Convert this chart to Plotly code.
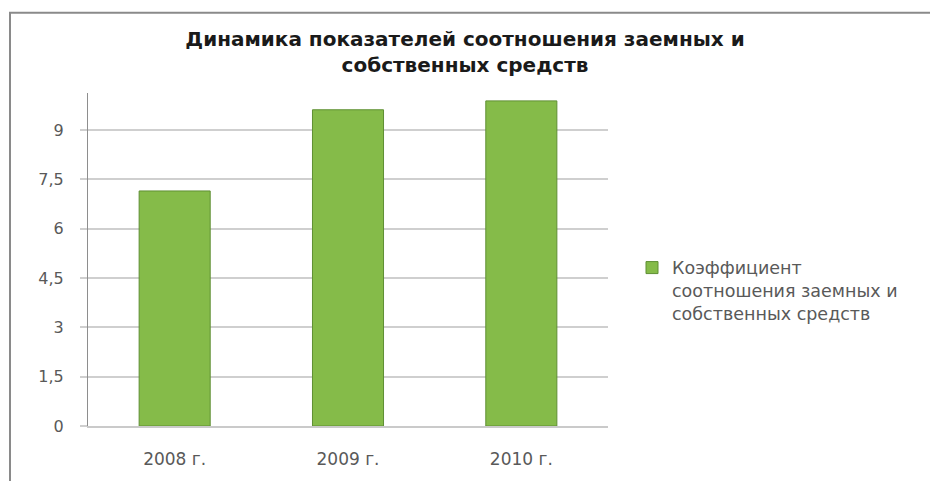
import plotly.graph_objects as go

# Data
years = ["2008 г.", "2009 г.", "2010 г."]
ratio = [7.15, 9.62, 9.89]
series_name = "Коэффициент<br>соотношения заемных и<br>собственных средств"
tick_values = [0, 1.5, 3, 4.5, 6, 7.5, 9]
tick_labels = ["0", "1,5", "3", "4,5", "6", "7,5", "9"]

title_text = "Динамика показателей соотношения заемных и<br>собственных средств"

W, H = 930, 481
L, R, T, B = 88, 322, 93, 48
plot_w = W - L - R
plot_h = H - T - B

def px_x(px):
    return (px - L) / plot_w

def px_y(py):
    return (H - B - py) / plot_h

fig = go.Figure()
fig.add_trace(go.Bar(
    x=years,
    y=ratio,
    name=series_name,
    marker=dict(color="#85bb49", line=dict(color="#5f8f33", width=1)),
    showlegend=True,
))

grey = "#595959"
fig.update_layout(
    width=W,
    height=H,
    margin=dict(l=L, r=R, t=T, b=B, pad=0),
    paper_bgcolor="white",
    plot_bgcolor="white",
    bargap=0.59,
    font=dict(family="DejaVu Sans", color=grey),
    title=dict(
        text=title_text,
        x=0.5,
        xanchor="center",
        y=1 - 46 / H,
        yanchor="top",
        font=dict(family="DejaVu Sans", size=20, color="#1a1a1a", weight="bold"),
    ),
    showlegend=True,
    legend=dict(
        x=px_x(632),
        xanchor="left",
        y=px_y(253),
        yanchor="top",
        valign="top",
        bgcolor="rgba(0,0,0,0)",
        font=dict(family="DejaVu Sans", size=17.5, color=grey),
    ),
    xaxis=dict(
        showline=True,
        linecolor="#cacaca",
        linewidth=2,
        showgrid=False,
        ticks="",
        tickfont=dict(family="DejaVu Sans", size=17, color=grey),
        ticklabelstandoff=17,
    ),
    yaxis=dict(
        range=[0, 10.13],
        tickvals=tick_values,
        ticktext=tick_labels,
        showline=True,
        linecolor="#8e8e8e",
        linewidth=1,
        showgrid=True,
        gridcolor="#cfcfcf",
        gridwidth=2,
        zeroline=False,
        ticks="outside",
        ticklen=7,
        tickwidth=2,
        tickcolor="#cfcfcf",
        ticklabelstandoff=13,
        tickfont=dict(family="DejaVu Sans", size=16, color=grey),
    ),
    shapes=[
        dict(
            type="rect",
            xref="paper",
            yref="paper",
            x0=px_x(10),
            x1=px_x(W + 20),
            y0=px_y(H + 20),
            y1=px_y(11),
            line=dict(color="#8a8a8a", width=2),
            fillcolor="rgba(0,0,0,0)",
            layer="below",
        )
    ],
)

fig.write_html("out.html")
